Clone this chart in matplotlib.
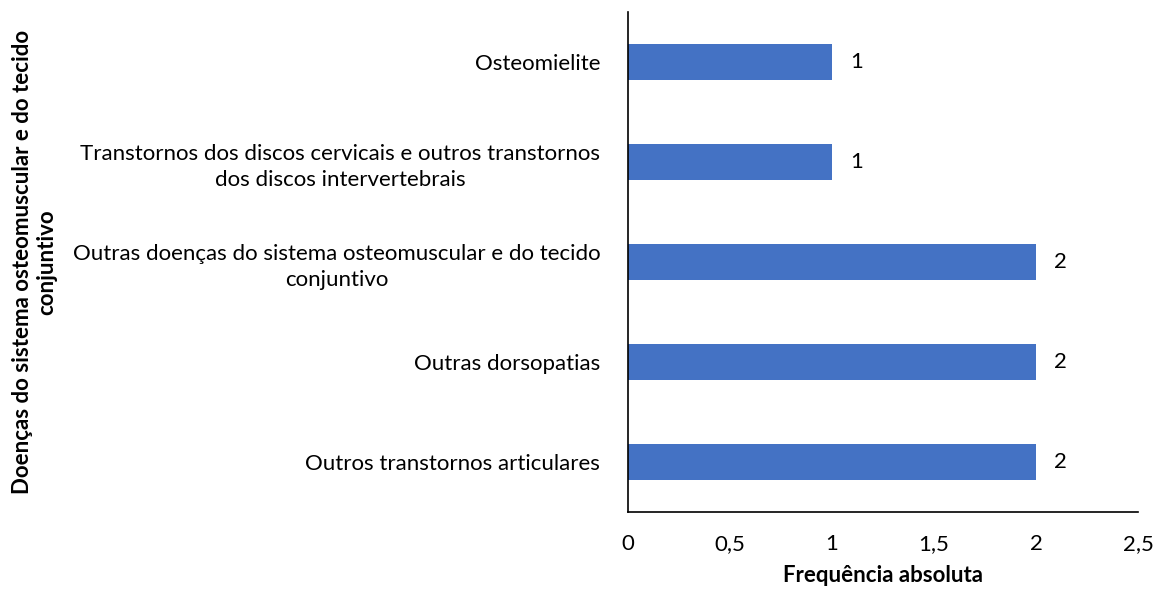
import matplotlib
matplotlib.use('Agg')
import matplotlib.pyplot as plt

plt.rcParams['font.family'] = ['Lato', 'DejaVu Sans']

categorias = [
    'Outros transtornos articulares',
    'Outras dorsopatias',
    'Outras doenças do sistema osteomuscular e do tecido\nconjuntivo',
    'Transtornos dos discos cervicais e outros transtornos\ndos discos intervertebrais',
    'Osteomielite',
]
frequencias = [2, 2, 2, 1, 1]
xticks = [0, 0.5, 1, 1.5, 2, 2.5]
xtick_labels = ['0', '0,5', '1', '1,5', '2', '2,5']

fig = plt.figure(figsize=(11.54, 5.89), dpi=100)
ax = fig.add_axes([628 / 1154, 1 - 512 / 589, (1138 - 628) / 1154, 500 / 589])

bars = ax.barh(range(len(categorias)), frequencias, height=0.36, color='#4472C4')
ax.bar_label(bars, labels=[str(v) for v in frequencias], padding=13, fontsize=16)

ax.set_xlim(0, 2.5)
ax.set_ylim(-0.5, len(categorias) - 0.5)
ax.set_xticks(xticks)
ax.set_xticklabels(xtick_labels, fontsize=16)
ax.set_yticks(range(len(categorias)))
ax.set_yticklabels(categorias, fontsize=16, multialignment='center', linespacing=1.35)
ax.tick_params(axis='both', length=0)
ax.tick_params(axis='x', pad=16)
ax.tick_params(axis='y', pad=20)

for s in ['top', 'right']:
    ax.spines[s].set_visible(False)
for s in ['left', 'bottom']:
    ax.spines[s].set_color('black')
    ax.spines[s].set_linewidth(1.2)

ax.set_xlabel('Frequência absoluta', fontsize=16, fontweight='bold', labelpad=8)
fig.text(35 / 1154, 1 - 262 / 589,
         'Doenças do sistema osteomuscular e do tecido\nconjuntivo',
         rotation=90, ha='center', va='center', multialignment='center',
         fontsize=16, fontweight='bold')

fig.savefig('out.png', dpi=100)
